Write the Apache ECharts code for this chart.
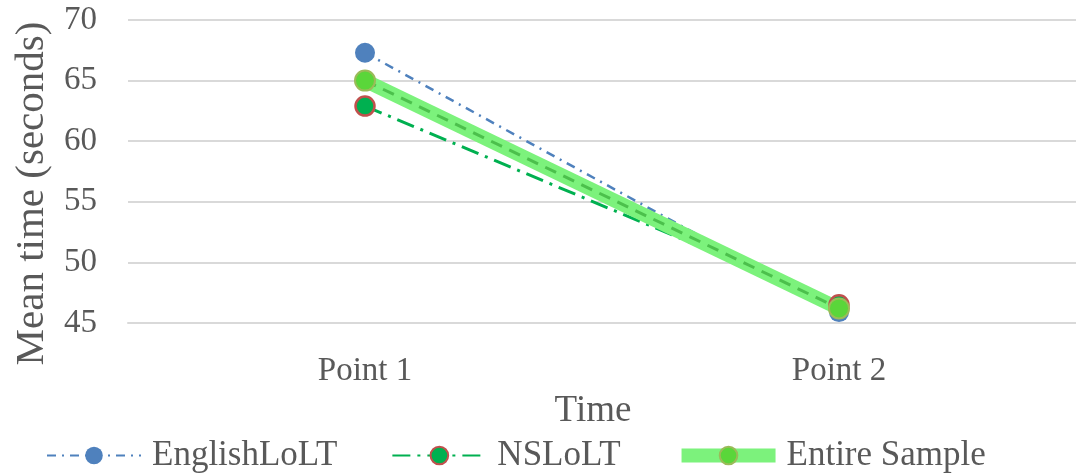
<!DOCTYPE html>
<html><head><meta charset="utf-8">
<script src="https://cdn.jsdelivr.net/npm/echarts@6/dist/echarts.min.js"></script>
<style>html,body{margin:0;padding:0;background:#fff}#c{width:1076px;height:475px}</style>
</head><body><div id="c"></div>
<script>
var categories = ['Point 1', 'Point 2'];
var englishLoLT = [67.3, 45.9];
var nsLoLT = [62.9, 46.5];
var entireSample = [65.0, 46.2];
var yTicks = {min: 45, max: 70, interval: 5};

var font = 'Liberation Serif, Times New Roman, serif';
var txt = '#595959';
var chart = echarts.init(document.getElementById('c'));
chart.setOption({
  animation: false,
  backgroundColor: '#fff',
  grid: {left: 128, right: -4, top: 20, bottom: 152},
  legend: {
    bottom: -3, left: 41, itemWidth: 94, itemHeight: 22, itemGap: 54,
    textStyle: {fontFamily: font, fontSize: 35, color: txt, padding: [0,0,0,6]},
    data: [
      {name: 'EnglishLoLT'},
      {name: 'NSLoLT'},
      {name: 'Entire Sample', lineStyle: {width: 14, color: '#7CF27C', type: 'solid'}}
    ]
  },
  xAxis: {
    type: 'category', data: categories, boundaryGap: true,
    name: 'Time', nameLocation: 'middle', nameGap: 58,
    nameTextStyle: {fontFamily: font, fontSize: 37, color: txt, padding: [0, 18, 0, 0]},
    axisLine: {lineStyle: {color: '#d9d9d9', width: 2}},
    axisTick: {show: false},
    axisLabel: {fontFamily: font, fontSize: 33, color: txt, margin: 32}
  },
  yAxis: {
    type: 'value', min: yTicks.min, max: yTicks.max, interval: yTicks.interval,
    name: 'Mean time (seconds)', nameLocation: 'middle', nameGap: 72,
    nameTextStyle: {fontFamily: font, fontSize: 41, color: txt, padding: [0, 44, 0, 0]},
    axisLine: {show: false}, axisTick: {show: false},
    axisLabel: {fontFamily: font, fontSize: 33, color: txt, margin: 31},
    splitLine: {lineStyle: {color: '#d9d9d9', width: 2}}
  },
  series: [
    {
      name: 'EnglishLoLT', type: 'line', data: englishLoLT,
      symbol: 'circle', symbolSize: 20,
      itemStyle: {color: '#4F81BD'},
      lineStyle: {color: '#4F81BD', width: 2.5, type: [9, 6, 2, 6]}
    },
    {
      name: 'NSLoLT', type: 'line', data: nsLoLT,
      symbol: 'circle', symbolSize: 19,
      itemStyle: {color: '#00B050', borderColor: '#C0504D', borderWidth: 2.5},
      lineStyle: {color: '#00B050', width: 3, type: [18, 7, 3, 7]}
    },
    {
      name: 'Entire Sample', type: 'line', data: entireSample,
      symbol: 'circle', symbolSize: 20,
      itemStyle: {color: '#5AD63A', borderColor: '#9BBB59', borderWidth: 2},
      lineStyle: {color: '#7CF27C', width: 14, type: 'solid'}
    },
    {
      name: 'Entire Sample dash', type: 'line', data: entireSample,
      symbol: 'none', silent: true,
      lineStyle: {color: '#4CC04C', width: 3, type: [12, 8]}
    }
  ]
});
</script></body></html>
